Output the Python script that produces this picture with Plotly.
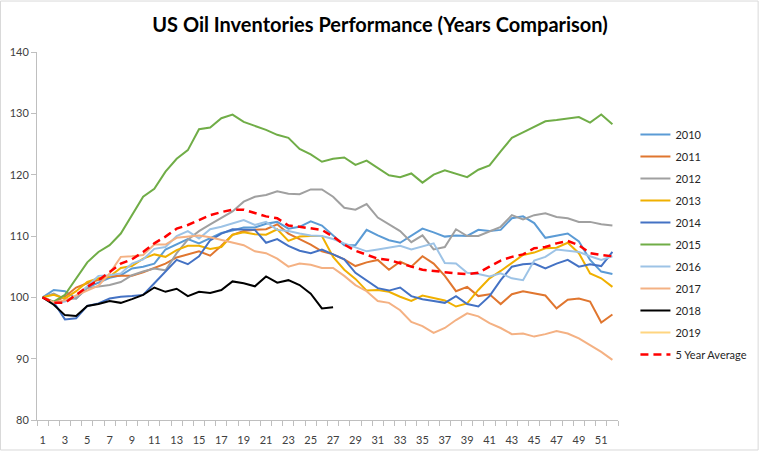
import plotly.graph_objects as go

weeks = list(range(1, 53))
tick_labels = [str(w) for w in range(1, 53, 2)]

y2010 = [100, 101.2, 101.0, 99.8, 101.6, 102.4, 103.2, 103.6, 104.7, 105.0, 105.5, 107.8, 108.7, 109.5, 108.8, 109.7,
         110.5, 110.9, 111.4, 111.4, 112.0, 112.3, 111.2, 111.5, 112.4, 111.7, 110.1, 108.5, 108.5, 111.0, 110.1, 109.3,
         108.9, 110.1, 111.2, 110.6, 109.9, 110.1, 110.0, 111.0, 110.8, 111.0, 112.9, 113.2, 112.1, 109.7, 110.1, 110.4,
         109.1, 106.1, 104.2, 103.8]
y2011 = [100, 99.2, 100.1, 101.6, 102.3, 102.9, 103.4, 103.5, 103.5, 104.1, 104.8, 105.5, 106.5, 107.0, 107.5, 106.8,
         108.4, 110.2, 110.8, 111.0, 111.1, 111.9, 110.4, 109.5, 108.6, 107.5, 107.0, 106.2, 105.1, 105.7, 106.1, 104.5,
         105.8, 105.0, 106.7, 105.5, 103.5, 101.0, 101.7, 100.2, 100.5, 98.9, 100.5, 101.0, 100.6, 100.3, 98.2, 99.6,
         99.8, 99.3, 95.9, 97.2]
y2012 = [100, 100.6, 99.7, 99.8, 101.5, 101.8, 102.0, 102.5, 103.6, 104.2, 104.7, 104.4, 107.2, 109.4, 110.8, 111.9,
         112.9, 114.0, 115.6, 116.4, 116.7, 117.3, 116.9, 116.8, 117.6, 117.6, 116.4, 114.6, 114.3, 115.2, 113.0, 111.9,
         110.8, 109.0, 110.1, 107.8, 108.2, 111.1, 110.0, 110.0, 110.7, 111.5, 113.4, 112.7, 113.4, 113.7, 113.1, 112.9,
         112.3, 112.3, 111.9, 111.7]
y2013 = [100, 100.4, 99.8, 101.0, 102.5, 103.1, 103.4, 104.8, 105.1, 106.3, 107.0, 106.6, 107.7, 108.4, 108.4, 107.9,
         108.2, 110.2, 110.6, 110.3, 110.2, 111.1, 109.2, 109.9, 110.0, 110.0, 106.6, 104.5, 103.0, 101.1, 101.2, 100.9,
         100.1, 99.4, 100.3, 99.9, 99.5, 98.5, 99.0, 101.2, 103.1, 104.3, 105.6, 106.9, 107.3, 108.0, 108.1, 108.9,
         107.2, 103.9, 103.1, 101.7]
y2014 = [100, 99.2, 96.4, 96.6, 98.6, 99.0, 99.8, 100.1, 100.2, 100.4, 102.3, 104.2, 106.1, 105.4, 106.7, 109.3,
         110.4, 111.1, 111.0, 111.0, 108.9, 109.5, 108.4, 107.6, 107.2, 107.8, 107.0, 106.2, 104.0, 102.7, 101.5, 101.1,
         101.6, 100.2, 99.7, 99.4, 99.1, 100.2, 98.9, 98.5, 100.2, 102.8, 105.0, 105.4, 105.5, 104.7, 105.5, 106.1,
         105.0, 105.4, 105.1, 107.4]
y2015 = [100, 99.3, 100.4, 103.0, 105.7, 107.4, 108.5, 110.4, 113.4, 116.4, 117.7, 120.5, 122.6, 124.0, 127.4, 127.7,
         129.2, 129.8, 128.6, 128.0, 127.3, 126.5, 126.0, 124.2, 123.3, 122.1, 122.6, 122.8, 121.6, 122.3, 121.1, 119.9,
         119.6, 120.2, 118.7, 120.0, 120.7, 120.1, 119.6, 120.8, 121.5, 123.8, 126.0, 126.9, 127.8, 128.7, 128.9, 129.1,
         129.4, 128.5, 129.8, 128.2]
y2016 = [100, 99.0, 99.3, 100.2, 101.8, 103.5, 103.6, 103.9, 105.5, 106.2, 107.9, 108.2, 110.0, 110.8, 109.6, 111.1,
         111.5, 112.1, 112.6, 111.8, 112.3, 111.0, 110.8, 110.4, 110.1, 110.0, 109.5, 108.8, 108.2, 107.5, 107.8, 108.1,
         108.4, 107.8, 108.3, 108.8, 105.6, 105.5, 104.0, 103.8, 103.4, 103.9, 103.1, 102.8, 106.0, 106.6, 107.8, 107.6,
         107.4, 106.7, 106.1, 106.7]
y2017 = [100, 99.2, 99.5, 100.3, 101.0, 101.9, 103.9, 106.6, 106.7, 106.9, 108.6, 108.6, 109.7, 109.9, 110.1, 109.8,
         109.4, 108.9, 108.5, 107.5, 107.2, 106.3, 105.0, 105.5, 105.3, 104.8, 104.8, 103.5, 102.0, 101.0, 99.4, 99.1,
         97.9, 96.0, 95.3, 94.2, 95.0, 96.3, 97.4, 96.9, 95.8, 95.0, 94.0, 94.1, 93.6, 94.0, 94.5, 94.1, 93.3, 92.2,
         91.1, 89.8]
y2018 = [100, 98.8, 97.1, 96.95, 98.6, 98.9, 99.4, 99.1, 99.7, 100.4, 101.6, 100.9, 101.4, 100.2, 100.9, 100.7,
         101.2, 102.6, 102.3, 101.8, 103.4, 102.4, 102.8, 102.0, 100.6, 98.2, 98.4]
y2019 = [None]
y5avg = [100, 99.1, 99.1, 100.4, 101.7, 102.8, 104.2, 105.5, 106.2, 107.4, 108.8, 109.9, 111.2, 111.8, 112.6, 113.4,
         113.9, 114.3, 114.3, 113.7, 113.2, 112.9, 111.7, 111.5, 111.2, 111.0, 109.9, 108.6, 107.6, 107.0, 106.3, 106.1,
         105.5, 105.0, 104.5, 104.3, 104.0, 103.9, 103.8, 104.0, 105.0, 106.0, 106.6, 107.0, 108.0, 108.2, 108.8, 109.2,
         108.5, 107.2, 106.9, 106.7]

series = [
    ("2010", y2010, "#5B9BD5", "solid"),
    ("2011", y2011, "#E0762F", "solid"),
    ("2012", y2012, "#A0A0A0", "solid"),
    ("2013", y2013, "#F0B000", "solid"),
    ("2014", y2014, "#4472C4", "solid"),
    ("2015", y2015, "#70AD47", "solid"),
    ("2016", y2016, "#9DC3E6", "solid"),
    ("2017", y2017, "#F4B183", "solid"),
    ("2018", y2018, "#000000", "solid"),
    ("2019", y2019, "#FFD580", "solid"),
    ("5 Year Average", y5avg, "#FF0000", "8px,5px"),
]

fig = go.Figure()
for name, ys, color, dash in series:
    fig.add_trace(go.Scatter(
        x=weeks[:len(ys)], y=ys, name=name, mode="lines", legendgroup=name,
        line=dict(color=color, width=2.5 if dash != "solid" else 2, dash=dash),
        connectgaps=False,
    ))

fig.update_layout(
    width=760, height=451,
    margin=dict(l=37, r=142, t=52, b=31, autoexpand=False),
    paper_bgcolor="white", plot_bgcolor="white",
    font=dict(family="Lato, sans-serif", color="#404040"),
    title=dict(text="<b>US Oil Inventories Performance (Years Comparison)</b>",
               x=0.5, xref="container", xanchor="center", y=0.945, yanchor="middle",
               font=dict(size=20, color="#000000", family="Lato, sans-serif")),
    showlegend=True,
    legend=dict(x=1.03, xanchor="left", y=0.815, yanchor="top", tracegroupgap=3,
                font=dict(size=11, color="#262626"), bgcolor="rgba(0,0,0,0)"),
    xaxis=dict(range=[0.5, 52.5], tickmode="array", tickvals=list(range(1, 53, 2)), ticktext=tick_labels,
               showgrid=False, zeroline=False, showline=True, linecolor="#BFBFBF", linewidth=1, automargin=False,
               ticks="", ticklabelstandoff=10, tickfont=dict(size=11, color="#404040"),
               minor=dict(ticks="outside", tick0=0.5, dtick=1, ticklen=5, tickcolor="#BFBFBF", showgrid=False)),
    yaxis=dict(range=[80, 140], dtick=10, showgrid=False, zeroline=False, showline=True, linecolor="#BFBFBF",
               linewidth=1, ticks="outside", ticklen=5, tickcolor="#BFBFBF", automargin=False,
               tickfont=dict(size=11, color="#404040")),
    shapes=[dict(type="rect", xref="paper", yref="paper", x0=-0.0628, x1=1.2412, y0=-0.0815, y1=1.1385,
                 line=dict(color="#D9D9D9", width=1), fillcolor="rgba(0,0,0,0)", layer="below")],
)

fig.write_html("out.html", config={"displayModeBar": False},
               post_script="document.body.style.margin='0';document.body.style.overflow='hidden';")
